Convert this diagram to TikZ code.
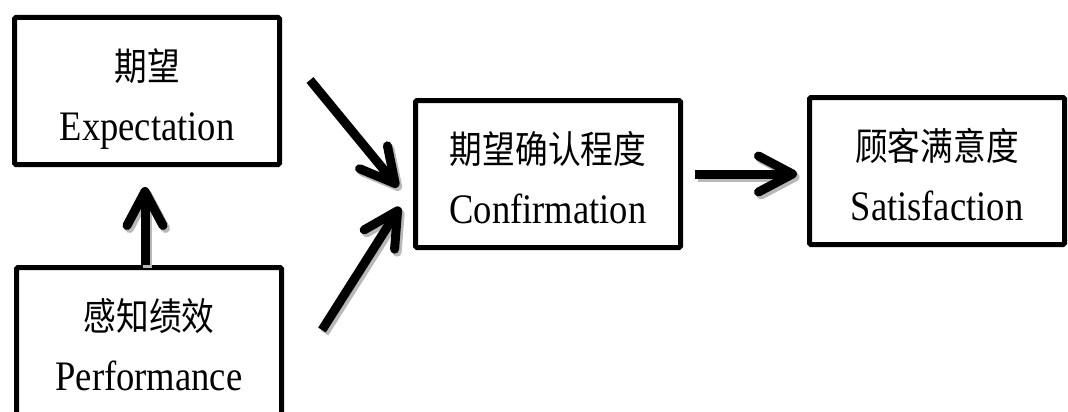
\documentclass[tikz,border=0pt]{standalone}
\usepackage{fontspec}
\setmainfont{Liberation Serif}
\newfontfamily\cjk{Noto Sans CJK SC}
\usetikzlibrary{arrows.meta}

% two lines in a box: Chinese above, English below
\newcommand{\boxtext}[2]{%
  \scalebox{0.86}[1]{\cjk\fontsize{38}{60}\selectfont #1\rule{0pt}{48pt}}\\
  \scalebox{0.87}[1]{#2\rule[-10pt]{0pt}{10pt}}}

\begin{document}
\begin{tikzpicture}[x=1pt, y=-1pt,
			box/.style={draw, line width=5pt, rounded corners=1.5pt, inner sep=0pt,
				minimum width=265pt, minimum height=147pt, align=center,
				font=\fontsize{42}{60}\selectfont},
			bigarrow/.style={line width=9pt, line cap=butt,
				-{Straight Barb[length=34pt, width=36pt, round]}},
			arrowshadow/.style={bigarrow, draw=black!28,
				transform canvas={shift={(2.5pt,-3pt)}}} ]
			\useasboundingbox (0,0) rectangle (1068,412);
			\node[box]                      (exp)  at (147,91)  {\boxtext{期望}{Expectation}};
			\node[box]                      (perf) at (149,341) {\boxtext{感知绩效}{Performance}};
			\node[box]                      (conf) at (548,174) {\boxtext{期望确认程度}{Confirmation}};
			\node[box, minimum width=255pt] (sat)  at (937,171) {\boxtext{顾客满意度}{Satisfaction}};
			
			%ends of the arrows
			\coordinate (upfrom)   at ([shift={(-4,0)}]perf.north);
			\coordinate (upto)     at ([shift={(-2,20)}]exp.south);
			\coordinate (topfrom)  at (310,80);
			\coordinate (topto)    at ([shift={(-15,13)}]conf.west);
			\coordinate (lowfrom)  at (322,330);
			\coordinate (lowto)    at ([shift={(-13,33)}]conf.west);
			\coordinate (outfrom)  at ([shift={(12,0)}]conf.east);
			\coordinate (outto)    at ([shift={(-10,0)}]conf.east -| sat.west);
			
			\foreach \from/\to in {upfrom/upto, topfrom/topto, lowfrom/lowto, outfrom/outto}{
				\draw[arrowshadow] (\from) -- (\to);
				\draw[bigarrow]    (\from) -- (\to);
			}
		\end{tikzpicture}
\end{document}
